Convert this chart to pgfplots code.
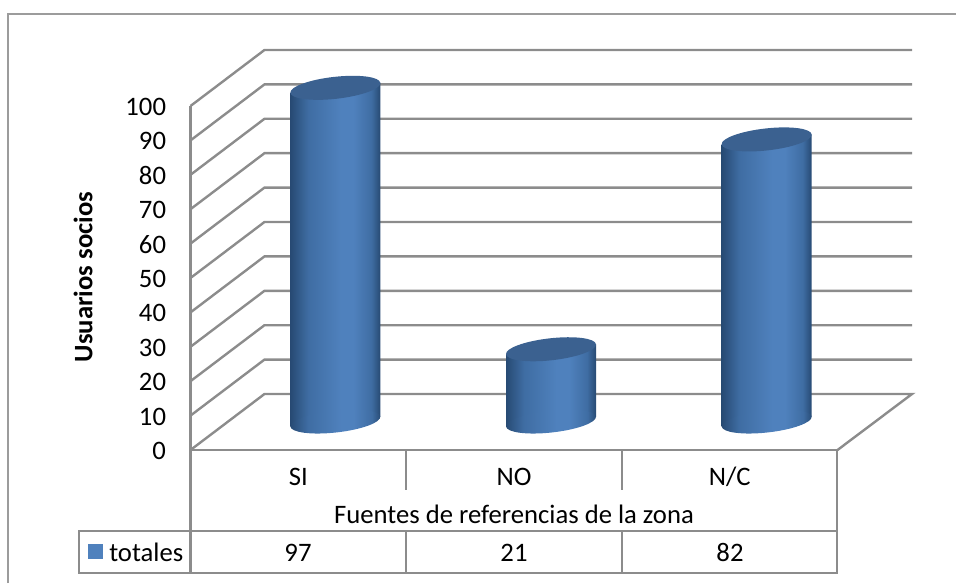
\documentclass[border=0pt]{standalone}
\usepackage{fontspec}
\setmainfont{Carlito}
\usepackage{pgfplots}
\pgfplotsset{compat=1.18}
\definecolor{gridgray}{HTML}{8C8C8C}
\definecolor{framegray}{HTML}{9C9C9C}
\definecolor{cyltop}{HTML}{3B6190}
\definecolor{cyldark}{HTML}{274A73}
\definecolor{cylmid}{HTML}{3F6DA3}
\definecolor{cyllight}{HTML}{4F81BD}
\pgfdeclarehorizontalshading{cyl}{100bp}{
  color(0bp)=(cyldark); color(25bp)=(cyldark); color(35bp)=(cylmid);
  color(53bp)=(cyllight); color(60bp)=(cyllight); color(70bp)=(cylmid); color(75bp)=(cyldark); color(100bp)=(cyldark)}
\pgfdeclareplotmark{cylbase}{%
  \pgfpathellipse{\pgfpointorigin}{\pgfqpoint{33.75pt}{3.75pt}}{\pgfqpoint{-0.9pt}{8.2pt}}%
  \pgfshadepath{cyl}{0}\pgfusepath{discard}}
\pgfdeclareplotmark{cyltop}{%
  \pgfsetfillcolor{cyltop}%
  \pgfpathellipse{\pgfpointorigin}{\pgfqpoint{33.75pt}{3.75pt}}{\pgfqpoint{-0.9pt}{8.2pt}}%
  \pgfusepath{fill}}
\begin{document}
\fontsize{20}{24}\selectfont
\begin{tikzpicture}[x=0.75pt,y=0.75pt]
\path[use as bounding box] (0,0) rectangle (956,583);
\begin{axis}[
  at={(142.875pt,99.75pt)}, anchor=south west,
  scale only axis, width=485.25pt, height=258pt,
  xmin=-0.5, xmax=2.5, ymin=0, ymax=100,
  clip=false,
  axis x line=bottom, axis y line=left,
  axis line style={draw=gridgray, line width=1.8pt, -},
  xtick={0,1,2}, xticklabels={SI,NO,N/C},
  ytick={0,10,...,100},
  major tick length=0pt,
  tick style={draw=none},
  /pgf/number format/assume math mode=true,
  ticklabel style={font=\fontsize{20}{24}\selectfont, text=black},
  yticklabel style={xshift=-11.5pt, yshift=-0.75pt},
  xticklabel style={text height=13pt, text depth=0pt, yshift=-7pt},
  xlabel={Fuentes de referencias de la zona},
  xlabel style={font=\fontsize{20}{24}\selectfont, at={(axis description cs:0.5,-0.186)}, anchor=center},
  ylabel={\textbf{Usuarios socios}},
  ylabel style={font=\fontsize{20}{24}\selectfont, at={(axis description cs:-0.166,0.503)}, anchor=center},
]
% walls: left-wall edge and back-wall line for each y gridline
\addplot[gridgray,line width=1.8pt] coordinates {(-0.5,0) (-0.157,16.28) (2.8455,16.28) (2.5,0)};
\addplot[gridgray,line width=1.8pt] coordinates {(-0.5,10) (-0.157,26.28) (2.8455,26.28)};
\addplot[gridgray,line width=1.8pt] coordinates {(-0.5,20) (-0.157,36.28) (2.8455,36.28)};
\addplot[gridgray,line width=1.8pt] coordinates {(-0.5,30) (-0.157,46.28) (2.8455,46.28)};
\addplot[gridgray,line width=1.8pt] coordinates {(-0.5,40) (-0.157,56.28) (2.8455,56.28)};
\addplot[gridgray,line width=1.8pt] coordinates {(-0.5,50) (-0.157,66.28) (2.8455,66.28)};
\addplot[gridgray,line width=1.8pt] coordinates {(-0.5,60) (-0.157,76.28) (2.8455,76.28)};
\addplot[gridgray,line width=1.8pt] coordinates {(-0.5,70) (-0.157,86.28) (2.8455,86.28)};
\addplot[gridgray,line width=1.8pt] coordinates {(-0.5,80) (-0.157,96.28) (2.8455,96.28)};
\addplot[gridgray,line width=1.8pt] coordinates {(-0.5,90) (-0.157,106.28) (2.8455,106.28)};
\addplot[gridgray,line width=1.8pt] coordinates {(-0.5,100) (-0.157,116.28) (2.8455,116.28)};
% cylinder bases
\addplot[only marks, mark=cylbase, xshift=27.75pt, yshift=21.375pt] coordinates {(0,0) (1,0) (2,0)};
% cylinder bodies (slanted so that the top and bottom edges follow the tilted ellipses)
\addplot[ybar, bar shift=0pt, bar width=67.5pt, draw=none, shade, shading=cyl, xshift=27.75pt, yshift=12.39pt, yslant=0.111] coordinates {(0,97)};
\addplot[ybar, bar shift=0pt, bar width=67.5pt, draw=none, shade, shading=cyl, xshift=27.75pt, yshift=-5.58pt, yslant=0.111] coordinates {(1,21)};
\addplot[ybar, bar shift=0pt, bar width=67.5pt, draw=none, shade, shading=cyl, xshift=27.75pt, yshift=-23.55pt, yslant=0.111] coordinates {(2,82)};
% cylinder tops
\addplot[only marks, mark=cyltop, xshift=27.75pt, yshift=21.375pt] coordinates {(0,97) (1,21) (2,82)};
\end{axis}
% outer frame
\draw[framegray,line width=1.8pt] (8,0) -- (8,569) -- (956,569);
% data table
\begin{scope}[gridgray,line width=1.8pt]
\draw (79,52) rectangle (837,10);
\draw (190.5,133) -- (190.5,10);
\draw (837,133) -- (837,52);
\draw (406,133) -- (406,93);
\draw (622,133) -- (622,93);
\draw (406,52) -- (406,10);
\draw (622,52) -- (622,10);
\end{scope}
\fill[cyllight] (88,39) rectangle (103,24);
\node[anchor=base west,inner sep=0pt] at (109,22) {totales};
\node[anchor=base,inner sep=0pt] at (298,22) {97};
\node[anchor=base,inner sep=0pt] at (514,22) {21};
\node[anchor=base,inner sep=0pt] at (730,22) {82};
\end{tikzpicture}
\end{document}
